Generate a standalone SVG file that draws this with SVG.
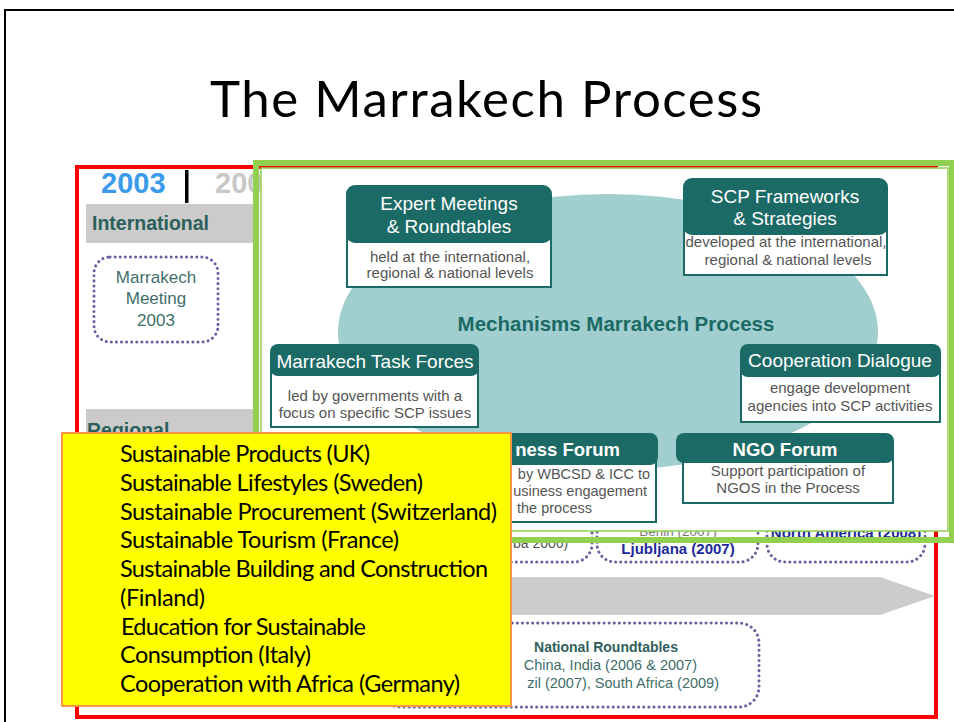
<svg xmlns="http://www.w3.org/2000/svg" width="954" height="722" viewBox="0 0 954 722">
<style>
.hdr{fill:#1c6a65}
.body{fill:#fff;stroke:#1c6a65;stroke-width:2}
.ht{font-family:"Liberation Sans",Arial,sans-serif;font-size:19px;fill:#fff;text-anchor:middle}
.hb{font-family:"Liberation Sans",Arial,sans-serif;font-size:18.5px;font-weight:bold;fill:#fff;text-anchor:middle}
.bt{font-family:"Liberation Sans",Arial,sans-serif;font-size:15px;fill:#555;text-anchor:middle}
.dot{fill:none;stroke:#6464a0;stroke-width:3;stroke-linecap:round;stroke-dasharray:0.1 5}
.tl{font-family:"Liberation Sans",Arial,sans-serif;fill:#3f6e6b}
.band{fill:#cbcbcb}
.yt{font-family:Lato,"Liberation Sans",sans-serif;font-size:23.5px;fill:#000}
</style>
<rect width="954" height="722" fill="#fff"/>
<path d="M5,722 V10 H954" fill="none" stroke="#000" stroke-width="2"/>
<text x="486" y="117" font-family="Lato,'Liberation Sans',sans-serif" font-size="51" text-anchor="middle" textLength="552" fill="#000">The Marrakech Process</text>

<g id="timeline">
  <rect x="77" y="167" width="859" height="550" fill="none" stroke="#ff0000" stroke-width="4"/>
  <text x="101" y="193" font-family="Liberation Sans,Arial,sans-serif" font-size="29" font-weight="bold" fill="#3b9bea">2003</text>
  <rect x="185" y="170" width="3.5" height="33" fill="#000"/>
  <text x="215" y="193" font-family="Liberation Sans,Arial,sans-serif" font-size="29" font-weight="bold" fill="#c8c8c8">200</text>
  <rect class="band" x="86" y="204" width="172" height="39"/>
  <text class="tl" x="92" y="230" font-size="19.5" font-weight="bold" style="fill:#2c5f5b">International</text>
  <g id="marrakech-meeting">
    <rect class="dot" x="94" y="257" width="124" height="85" rx="16"/>
    <text class="tl" x="156" y="283" font-size="17" text-anchor="middle">Marrakech</text>
    <text class="tl" x="156" y="304" font-size="17" text-anchor="middle">Meeting</text>
    <text class="tl" x="156" y="326" font-size="17" text-anchor="middle">2003</text>
  </g>
  <rect class="band" x="86" y="409" width="172" height="40"/>
  <text class="tl" x="87" y="437" font-size="19.5" font-weight="bold" style="fill:#2c5f5b">Regional</text>
  <g id="regional-boxes">
    <rect class="dot" x="400" y="500" width="192" height="62" rx="18"/>
    <text class="tl" x="513" y="548" font-size="14" style="fill:#555">ba 2006)</text>
    <rect class="dot" x="597" y="500" width="161" height="62" rx="18"/>
    <text class="tl" x="678" y="536" font-size="13.5" text-anchor="middle" style="fill:#777">Berlin (2007)</text>
    <text x="678" y="554" font-family="Liberation Sans,Arial,sans-serif" font-size="15" font-weight="bold" text-anchor="middle" fill="#1f2a9a">Ljubljana (2007)</text>
    <rect class="dot" x="767" y="500" width="158" height="62" rx="18"/>
    <text x="846" y="538" font-family="Liberation Sans,Arial,sans-serif" font-size="15" font-weight="bold" text-anchor="middle" fill="#1f2a9a">North America (2008)</text>
  </g>
  <path d="M86,577 H880 L935,596 L880,615 H86 Z" fill="#cccccc"/>
  <g id="national-roundtables">
    <rect class="dot" x="380" y="623" width="379" height="84" rx="20"/>
    <text class="tl" x="606" y="652" font-size="14" font-weight="bold" text-anchor="middle" style="fill:#2f5f5c">National Roundtables</text>
    <text class="tl" x="697" y="670" font-size="14.5" text-anchor="end">China, India (2006 &amp; 2007)</text>
    <text class="tl" x="719" y="688" font-size="14.5" text-anchor="end">zil (2007),  South Africa (2009)</text>
  </g>
</g>

<g id="mechanisms">
  <rect x="256" y="163" width="696" height="377" fill="none" stroke="#92d050" stroke-width="6"/>
  <rect x="261" y="168" width="687" height="363" fill="#fff" stroke="#92d050" stroke-width="1.5"/>
  <ellipse cx="608" cy="332" rx="270" ry="138" fill="#a1cfcf"/>
  <text x="616" y="331" font-family="Liberation Sans,Arial,sans-serif" font-size="20.5" font-weight="bold" fill="#1c6a65" text-anchor="middle">Mechanisms Marrakech Process</text>

  <g id="expert-meetings">
    <rect class="body" x="347" y="232" width="204" height="55"/>
    <rect class="hdr" x="346" y="185" width="206" height="58" rx="9"/>
    <text class="ht" x="449" y="210">Expert Meetings</text>
    <text class="ht" x="449" y="233">&amp; Roundtables</text>
    <text class="bt" x="450" y="262">held at the international,</text>
    <text class="bt" x="450" y="278">regional &amp; national levels</text>
  </g>
  <g id="scp-frameworks">
    <rect class="body" x="684" y="226" width="203" height="49"/>
    <rect class="hdr" x="683" y="178" width="205" height="57" rx="9"/>
    <text class="ht" x="785" y="203">SCP Frameworks</text>
    <text class="ht" x="785" y="225">&amp; Strategies</text>
    <text class="bt" x="786" y="247">developed at the international,</text>
    <text class="bt" x="788" y="265">regional &amp; national levels</text>
  </g>
  <g id="task-forces">
    <rect class="body" x="271" y="368" width="207" height="59"/>
    <rect class="hdr" x="270" y="344" width="209" height="32" rx="8"/>
    <text class="ht" x="375" y="368">Marrakech Task Forces</text>
    <text class="bt" x="375" y="401">led by governments with a</text>
    <text class="bt" x="375" y="418">focus on specific SCP issues</text>
  </g>
  <g id="cooperation-dialogue">
    <rect class="body" x="741" y="369" width="199" height="53"/>
    <rect class="hdr" x="740" y="344" width="201" height="33" rx="8"/>
    <text class="ht" x="840" y="367">Cooperation Dialogue</text>
    <text class="bt" x="840" y="393">engage development</text>
    <text class="bt" x="840" y="411">agencies into SCP activities</text>
  </g>
  <g id="business-forum">
    <rect class="body" x="440" y="457" width="216" height="65"/>
    <rect class="hdr" x="438" y="433" width="220" height="32" rx="8"/>
    <text class="hb" x="620" y="456" style="text-anchor:end">ness  Forum</text>
    <text class="bt" x="650" y="479" style="text-anchor:end;font-size:14.5px">by WBCSD &amp; ICC to</text>
    <text class="bt" x="647" y="496" style="text-anchor:end;font-size:14.5px">usiness engagement</text>
    <text class="bt" x="517" y="513" style="text-anchor:start;font-size:14.5px">the process</text>
  </g>
  <g id="ngo-forum">
    <rect class="body" x="683" y="455" width="210" height="48"/>
    <rect class="hdr" x="676" y="433" width="218" height="30" rx="8"/>
    <text class="hb" x="785" y="456">NGO  Forum</text>
    <text class="bt" x="788" y="476">Support participation of</text>
    <text class="bt" x="788" y="493">NGOS in the Process</text>
  </g>
</g>

<g id="connectors"></g>

<g id="task-force-list">
  <rect x="62" y="433" width="449" height="273" fill="#ffff00" stroke="#f79646" stroke-width="2"/>
  <text class="yt" x="120" y="462" textLength="250">Sustainable Products (UK)</text>
  <text class="yt" x="120" y="491" textLength="303">Sustainable Lifestyles (Sweden)</text>
  <text class="yt" x="120" y="520" textLength="377">Sustainable Procurement (Switzerland)</text>
  <text class="yt" x="120" y="548" textLength="279">Sustainable Tourism (France)</text>
  <text class="yt" x="120" y="577" textLength="368">Sustainable Building and Construction</text>
  <text class="yt" x="120" y="606" textLength="85">(Finland)</text>
  <text class="yt" x="121" y="635" textLength="245">Education for Sustainable</text>
  <text class="yt" x="120" y="663" textLength="191">Consumption (Italy)</text>
  <text class="yt" x="120" y="692" textLength="340">Cooperation with Africa (Germany)</text>
</g>
</svg>
